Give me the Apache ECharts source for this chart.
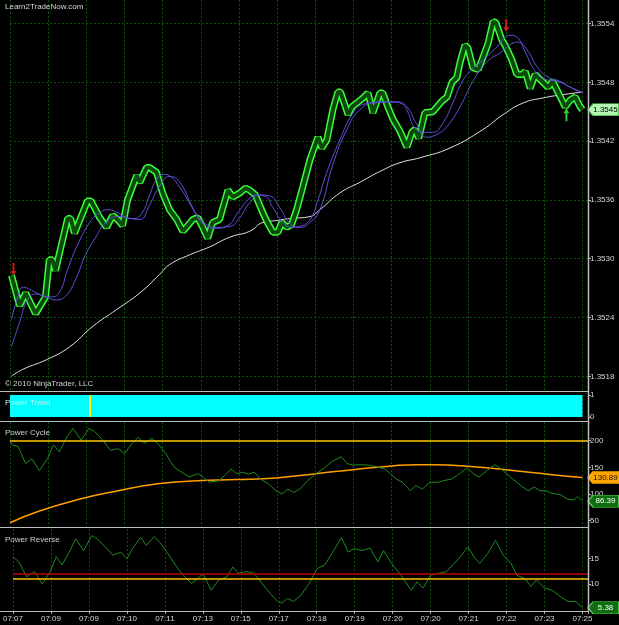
<!DOCTYPE html>
<html>
<head>
<meta charset="utf-8">
<script src="https://cdn.jsdelivr.net/npm/echarts@6/dist/echarts.min.js"></script>
<style>
  html, body { margin: 0; padding: 0; background: #000; }
  #chart { width: 619px; height: 625px; }
</style>
</head>
<body>
<div id="chart"></div>
<script>
// bar index -> time label, one label every 10 bars
const timeLabels = ['07:07', '07:09', '07:09', '07:10', '07:11', '07:13', '07:15', '07:17',
  '07:18', '07:19', '07:20', '07:20', '07:21', '07:22', '07:23', '07:25'];

const priceTicks = [1.3518, 1.3524, 1.3530, 1.3536, 1.3542, 1.3548, 1.3554];
const cycleTicks = [50, 100, 150, 200];
const reverseTicks = [5, 10, 15];

// renko close path [bar, price]
const renkoPrice = [[0.4,1.35283],[2.5,1.35252],[4.1,1.35265],[6.7,1.35244],[9.3,1.35261],[10.3,1.35299],
  [11.1,1.35299],[11.9,1.35288],[15.1,1.35341],[15.9,1.35341],[16.9,1.35326],[20.3,1.35359],[21.2,1.35359],
  [23.5,1.35342],[25.3,1.35332],[26.9,1.35344],[28.2,1.3534],[29.5,1.35334],[30.8,1.3536],[33.2,1.35385],
  [34.0,1.35378],[35.8,1.35393],[36.6,1.35393],[38.4,1.35388],[40.0,1.35367],[41.8,1.3535],[43.7,1.3534],
  [45.3,1.35328],[46.6,1.35334],[47.9,1.3534],[49.2,1.35342],[50.5,1.35332],[51.8,1.35321],[53.1,1.35337],
  [54.9,1.3534],[57.1,1.3537],[58.4,1.35363],[60.2,1.35367],[61.7,1.35372],[62.8,1.3537],[64.3,1.35365],
  [65.9,1.3535],[67.3,1.35338],[68.9,1.35327],[70.2,1.35327],[71.2,1.35337],[72.5,1.35332],[73.8,1.35335],
  [75.1,1.3535],[76.7,1.35373],[78.6,1.35401],[80.4,1.35421],[80.7,1.35424],[81.7,1.35413],[83.0,1.35421],
  [84.6,1.35452],[85.9,1.3547],[86.6,1.3547],[88.6,1.35447],[89.6,1.35455],[90.9,1.35459],[92.5,1.35464],
  [93.8,1.35469],[95.1,1.35449],[96.9,1.35469],[97.7,1.35469],[99.0,1.35455],[100.4,1.35442],[102.2,1.3543],
  [104.0,1.35414],[105.3,1.35429],[106.1,1.35432],[107.1,1.35423],[108.7,1.35449],[110.8,1.3545],
  [113.2,1.35461],[114.5,1.35465],[115.8,1.3548],[117.1,1.35485],[117.9,1.355],[119.2,1.35518],[120.0,1.35515],
  [121.3,1.35495],[122.7,1.35493],[123.7,1.35503],[125.3,1.3552],[126.6,1.35542],[127.3,1.35541],
  [128.9,1.35523],[129.7,1.35518],[130.2,1.3552],[131.5,1.35503],[132.8,1.35488],[134.2,1.35488],
  [135.0,1.35491],[136.3,1.35474],[137.6,1.35488],[138.9,1.35483],[141.0,1.35475],[142.2,1.35481],
  [144.6,1.35462],[145.5,1.35455],[146.8,1.35462],[148.1,1.35465],[149.4,1.35455],[150,1.35452]];

const fastMA = [[0.4,1.35238],[2.0,1.3526],[3.5,1.35271],[5.6,1.35268],[8.2,1.35263],[10.9,1.35261],
  [13.0,1.35266],[15.1,1.35289],[17.7,1.35314],[20.9,1.35337],[23.5,1.35347],[25.6,1.3535],[27.7,1.35348],
  [30.0,1.35343],[32.4,1.35341],[34.5,1.35346],[36.6,1.35365],[38.4,1.35381],[40.5,1.35386],[42.3,1.35383],
  [45.0,1.3537],[47.6,1.35353],[50.5,1.35336],[53.6,1.35331],[57.1,1.35334],[59.7,1.35347],[62.3,1.3536],
  [64.6,1.35365],[66.8,1.35364],[68.9,1.35352],[71.5,1.35337],[73.8,1.35332],[75.9,1.35333],[78.6,1.3534],
  [80.7,1.3536],[83.0,1.35388],[86.4,1.35421],[89.9,1.35449],[92.2,1.35457],[95.6,1.35459],[100.1,1.3546],
  [102.7,1.35458],[104.3,1.35449],[105.8,1.35435],[108.2,1.35429],[110.8,1.35429],[113.5,1.35439],
  [115.8,1.35457],[118.4,1.3548],[121.0,1.35493],[124.0,1.35503],[127.6,1.35516],[131.0,1.35528],
  [132.8,1.35526],[135.0,1.35511],[137.3,1.35493],[140.2,1.35483],[143.5,1.35481],[146.8,1.35475],[150,1.3547]];

const slowMA = [[0.4,1.3521],[2.5,1.35235],[4.6,1.35258],[6.7,1.35264],[9.3,1.35261],[11.9,1.35258],
  [14.6,1.35262],[17.2,1.35279],[19.8,1.35304],[22.5,1.35322],[25.1,1.35337],[28.2,1.35343],[31.4,1.35341],
  [34.0,1.3534],[36.6,1.35355],[39.2,1.35374],[41.8,1.35384],[44.5,1.35378],[47.9,1.35352],[50.5,1.35338],
  [54.1,1.35332],[57.6,1.35333],[60.2,1.35342],[62.8,1.35357],[65.5,1.35365],[68.1,1.35364],[70.7,1.35352],
  [73.3,1.35336],[75.9,1.35332],[78.6,1.35337],[81.2,1.3535],[84.6,1.35396],[88.3,1.35432],[91.7,1.35452],
  [96.1,1.3546],[101.4,1.3546],[104.0,1.35455],[106.6,1.35437],[109.2,1.35424],[111.9,1.35427],
  [114.5,1.35435],[117.9,1.35455],[121.3,1.35481],[125.0,1.35501],[128.4,1.3551],[131.8,1.3552],
  [133.1,1.35521],[135.5,1.35513],[138.1,1.35496],[140.7,1.35486],[144.1,1.35481],[147.3,1.35474],[150,1.35469]];

const trendMA = [[0.4,1.3518],[3.3,1.35187],[9.6,1.35197],[15.6,1.3521],[21.7,1.35231],[27.9,1.35248],
  [34.0,1.35265],[39.2,1.35284],[41.8,1.35294],[47.1,1.35304],[52.3,1.35312],[57.6,1.35322],[62.8,1.35328],
  [66.3,1.35337],[69.9,1.35339],[73.3,1.35341],[78.6,1.35343],[81.2,1.3535],[86.4,1.35367],[91.7,1.35378],
  [96.9,1.35389],[102.2,1.35398],[107.4,1.35403],[115.3,1.35413],[124.0,1.35432],[129.2,1.35447],
  [134.5,1.35459],[139.6,1.35464],[144.1,1.35467],[150,1.3547]];

const sellSignals = [[0.9, 1.35289], [130.0, 1.35538]];
const buySignals = [[145.8, 1.35447]];

const powerTrend = [[0, 1], [150, 1]];
const trendFlip = 21;

const powerCycle = [[0,200],[0.5,192],[2.1,189],[4.1,157],[5.7,166],[7.7,144],[9.8,166],[11.4,192],[12.9,179],
  [15.0,208],[16.5,223],[18.6,201],[20.7,223],[22.2,217],[24.3,201],[26.3,182],[28.4,185],[30.0,176],[32.0,195],
  [33.6,206],[35.1,195],[37.2,204],[38.7,195],[40.8,176],[42.9,151],[44.9,141],[47.0,132],[49.1,138],[50.6,132],
  [52.2,122],[54.8,125],[56.3,135],[57.9,147],[59.4,138],[60.9,141],[62.5,137],[64.0,141],[65.6,128],[67.7,119],
  [69.7,106],[71.3,100],[72.8,109],[74.4,103],[75.9,109],[78.0,125],[80.1,138],[82.1,147],[84.2,160],[86.8,170],
  [88.3,157],[89.9,154],[91.9,155],[94.0,154],[96.1,151],[98.1,147],[99.7,138],[101.2,128],[102.8,122],
  [104.9,106],[106.4,116],[108.0,109],[110.0,122],[112.1,122],[113.6,125],[115.7,128],[117.8,138],[119.8,149],
  [121.4,138],[122.9,132],[125.0,144],[127.1,155],[128.6,147],[130.2,138],[131.7,128],[133.8,116],[135.8,106],
  [137.4,113],[138.9,106],[140.5,106],[142.0,101],[144.1,99],[146.2,90],[147.7,89],[148.8,95],[150,86.39]];

const cycleSignal = [[0,46],[7.7,68],[18.1,90],[28.4,106],[38.7,119],[49.1,125],[59.4,127],[69.7,130],
  [80.1,138],[90.4,146],[100.7,153],[106.9,155],[111.1,155],[121.4,151],[131.7,144],[142.0,136],[150,130.89]];
const cycleLevel = 200;

const powerReverse = [[0,15.3],[1.5,14.3],[3.6,11.4],[5.7,12.4],[7.7,10],[9.8,12.4],[11.4,15.3],[12.9,13.7],
  [15.0,16.5],[16.5,18.8],[18.6,16.5],[20.7,19.4],[22.2,18.8],[24.3,17.2],[26.3,15.6],[28.4,16.2],[30.0,14.9],
  [31.5,16.9],[33.6,19.1],[35.1,17.5],[37.2,19.2],[38.7,18.1],[40.8,15.9],[43.4,13],[44.9,11.7],[47.0,10.1],
  [49.1,11.4],[50.1,11.9],[52.2,8.8],[54.2,10.8],[56.3,11.4],[57.9,13.3],[59.4,12.1],[61.5,12.4],[63.5,12.1],
  [65.6,10.1],[67.7,8.2],[69.7,6.6],[70.8,6.3],[72.3,7.2],[73.9,6.6],[75.9,7.9],[78.0,10.1],[80.1,13],
  [82.1,13.7],[84.2,16.2],[86.5,19],[88.3,16.2],[89.9,16.9],[91.9,16.5],[94.0,17],[96.1,14.3],[97.6,16.5],
  [99.7,14],[101.8,12.1],[104.9,8.8],[106.4,10.4],[108.0,9.2],[110.0,11.7],[112.1,12.1],[114.2,12.4],
  [116.2,14],[117.8,15.3],[119.8,17.2],[121.4,15.3],[122.9,14],[125.0,15.9],[127.1,18.5],[129.1,15.6],
  [131.2,14],[132.7,11.7],[134.8,11.1],[136.4,9.5],[137.9,10.8],[140.0,9.2],[142.0,8.8],[144.1,7.6],
  [146.2,6.6],[148.2,6.6],[150,5.38]];
const reverseUpper = 12;
const reverseLower = 11;

const FONT = '"Liberation Sans", Arial, sans-serif';
const last = arr => arr[arr.length - 1];

const dotted = { show: true, lineStyle: { color: '#0c500c', type: [2, 2], width: 1 } };

function makeXAxis(gridIndex, withLabels) {
  return {
    type: 'value', gridIndex, min: 0, max: 151.45, interval: 10,
    axisLine: { show: false, onZero: false },
    axisTick: { show: withLabels, length: 3, lineStyle: { color: '#a8a8a8' } },
    axisLabel: {
      show: withLabels, color: '#d4d4d4', fontSize: 8, fontFamily: FONT, margin: 4,
      formatter: v => (v % 10 === 0 && timeLabels[v / 10]) ? timeLabels[v / 10] : ''
    },
    splitLine: dotted
  };
}

function makeYAxis(gridIndex, min, max, ticks, digits, split) {
  return {
    type: 'value', gridIndex, position: 'right', min, max,
    axisLine: { show: false, onZero: false },
    axisTick: { show: true, length: 3, customValues: ticks, lineStyle: { color: '#b8b8b8' } },
    axisLabel: {
      customValues: ticks, color: '#d4d4d4', fontSize: 8, fontFamily: FONT, margin: 2,
      formatter: v => v.toFixed(digits)
    },
    splitLine: split ? dotted : { show: false }
  };
}

function valueTag(point, fill, border, textColor, digits) {
  return {
    silent: true, animation: false,
    symbol: 'path://M0,6 L5,0 L31,0 L31,12 L5,12 Z',
    symbolSize: [31, 12], symbolKeepAspect: false, symbolOffset: [21, 0],
    itemStyle: { color: fill, borderColor: border, borderWidth: 1 },
    label: {
      show: true, position: 'inside', offset: [2, 0], color: textColor,
      fontSize: 8, fontFamily: FONT, formatter: point[1].toFixed(digits)
    },
    data: [{ coord: point }]
  };
}

function hLine(value, color) {
  return { yAxis: value, lineStyle: { color, width: 1.5, type: 'solid' } };
}

const chart = echarts.init(document.getElementById('chart'));

const option = {
  backgroundColor: '#000',
  animation: false,
  grid: [
    { left: 10, right: 31, top: 0, height: 391 },
    { left: 10, right: 31, top: 395, height: 22 },
    { left: 10, right: 31, top: 422, height: 105 },
    { left: 10, right: 31, top: 529, height: 82 }
  ],
  xAxis: [makeXAxis(0, false), makeXAxis(1, false), makeXAxis(2, false), makeXAxis(3, true)],
  yAxis: [
    makeYAxis(0, 1.35165, 1.35564, priceTicks, 4, true),
    makeYAxis(1, 0, 1, [0, 1], 0, false),
    makeYAxis(2, 38, 235, cycleTicks, 0, false),
    makeYAxis(3, 4.75, 20.7, reverseTicks, 0, false)
  ],
  series: [
    {
      name: 'Trend MA', type: 'line', xAxisIndex: 0, yAxisIndex: 0, data: trendMA,
      showSymbol: false, smooth: true, lineStyle: { color: '#e2e2e2', width: 1 }, z: 2
    },
    {
      name: 'Renko', type: 'line', xAxisIndex: 0, yAxisIndex: 0, data: renkoPrice,
      showSymbol: false, lineStyle: { color: '#3cff3c', width: 7 }, z: 3,
      markPoint: valueTag(last(renkoPrice), '#b4f5b4', '#3cbf3c', '#000', 4)
    },
    {
      name: 'Renko core', type: 'line', xAxisIndex: 0, yAxisIndex: 0, data: renkoPrice,
      showSymbol: false, lineStyle: { color: '#0b4a0b', width: 4 }, z: 4
    },
    {
      name: 'Fast MA', type: 'line', xAxisIndex: 0, yAxisIndex: 0, data: fastMA,
      showSymbol: false, smooth: true, lineStyle: { color: '#5d52d8', width: 1 }, z: 5
    },
    {
      name: 'Slow MA', type: 'line', xAxisIndex: 0, yAxisIndex: 0, data: slowMA,
      showSymbol: false, smooth: true, lineStyle: { color: '#5d52d8', width: 1 }, z: 5
    },
    {
      name: 'Sell', type: 'scatter', xAxisIndex: 0, yAxisIndex: 0, data: sellSignals,
      symbol: 'path://M2,0 L4,0 L4,8 L6,8 L3,13 L0,8 L2,8 Z', symbolSize: [6, 13],
      itemStyle: { color: '#ff2020' }, z: 6, silent: true
    },
    {
      name: 'Buy', type: 'scatter', xAxisIndex: 0, yAxisIndex: 0, data: buySignals,
      symbol: 'path://M3,0 L6,5 L4,5 L4,13 L2,13 L2,5 L0,5 Z', symbolSize: [6, 13],
      itemStyle: { color: '#3cff3c' }, z: 6, silent: true
    },
    {
      name: 'Power Trend', type: 'line', xAxisIndex: 1, yAxisIndex: 1, data: powerTrend,
      showSymbol: false, lineStyle: { width: 0 }, areaStyle: { color: '#00ffff', opacity: 1 },
      markLine: {
        silent: true, symbol: 'none', label: { show: false }, animation: false,
        data: [{ xAxis: trendFlip, lineStyle: { color: '#ffff00', width: 2, type: 'solid' } }]
      }
    },
    {
      name: 'Power Cycle', type: 'line', xAxisIndex: 2, yAxisIndex: 2, data: powerCycle,
      showSymbol: false, lineStyle: { color: '#1c8c1c', width: 1 }, z: 4,
      markLine: {
        silent: true, symbol: 'none', label: { show: false }, animation: false,
        data: [hLine(cycleLevel, '#ffc800')]
      },
      markPoint: valueTag(last(powerCycle), '#0f6e0f', '#5cd65c', '#ffffff', 2)
    },
    {
      name: 'Cycle Signal', type: 'line', xAxisIndex: 2, yAxisIndex: 2, data: cycleSignal,
      showSymbol: false, smooth: true, lineStyle: { color: '#ff9f00', width: 1.5 }, z: 3,
      markPoint: valueTag(last(cycleSignal), '#ffa500', '#ffa500', '#1a1000', 2)
    },
    {
      name: 'Power Reverse', type: 'line', xAxisIndex: 3, yAxisIndex: 3, data: powerReverse,
      showSymbol: false, lineStyle: { color: '#1c8c1c', width: 1 }, z: 4,
      markLine: {
        silent: true, symbol: 'none', label: { show: false }, animation: false,
        data: [hLine(reverseUpper, '#c00000'), hLine(reverseLower, '#ffc000')]
      },
      markPoint: valueTag(last(powerReverse), '#0f6e0f', '#5cd65c', '#ffffff', 2)
    }
  ],
  graphic: [
    { type: 'line', shape: { x1: 0, y1: 391.5, x2: 588, y2: 391.5 }, style: { stroke: '#bdbdbd', lineWidth: 1 }, z: 50 },
    { type: 'line', shape: { x1: 0, y1: 421.5, x2: 588, y2: 421.5 }, style: { stroke: '#bdbdbd', lineWidth: 1 }, z: 50 },
    { type: 'line', shape: { x1: 0, y1: 527.5, x2: 588, y2: 527.5 }, style: { stroke: '#bdbdbd', lineWidth: 1 }, z: 50 },
    { type: 'line', shape: { x1: 0, y1: 611.5, x2: 588, y2: 611.5 }, style: { stroke: '#bdbdbd', lineWidth: 1 }, z: 50 },
    { type: 'line', shape: { x1: 588.5, y1: 0, x2: 588.5, y2: 611.5 }, style: { stroke: '#bdbdbd', lineWidth: 1.5 }, z: 50 },
    { type: 'text', left: 5, top: 3, style: { text: 'Learn2TradeNow.com', fill: '#d8d8d8', font: '8px ' + FONT }, z: 60 },
    { type: 'text', left: 5, top: 380, style: { text: '\u00a9 2010 NinjaTrader, LLC', fill: '#d0d0d0', font: '8px ' + FONT }, z: 60 },
    { type: 'text', left: 5, top: 399, style: { text: 'Power Trend', fill: '#b8f4f4', font: '8px ' + FONT }, z: 60 },
    { type: 'text', left: 5, top: 429, style: { text: 'Power Cycle', fill: '#d0d0d0', font: '8px ' + FONT }, z: 60 },
    { type: 'text', left: 5, top: 536, style: { text: 'Power Reverse', fill: '#d0d0d0', font: '8px ' + FONT }, z: 60 }
  ]
};

chart.setOption(option);
</script>
</body>
</html>
